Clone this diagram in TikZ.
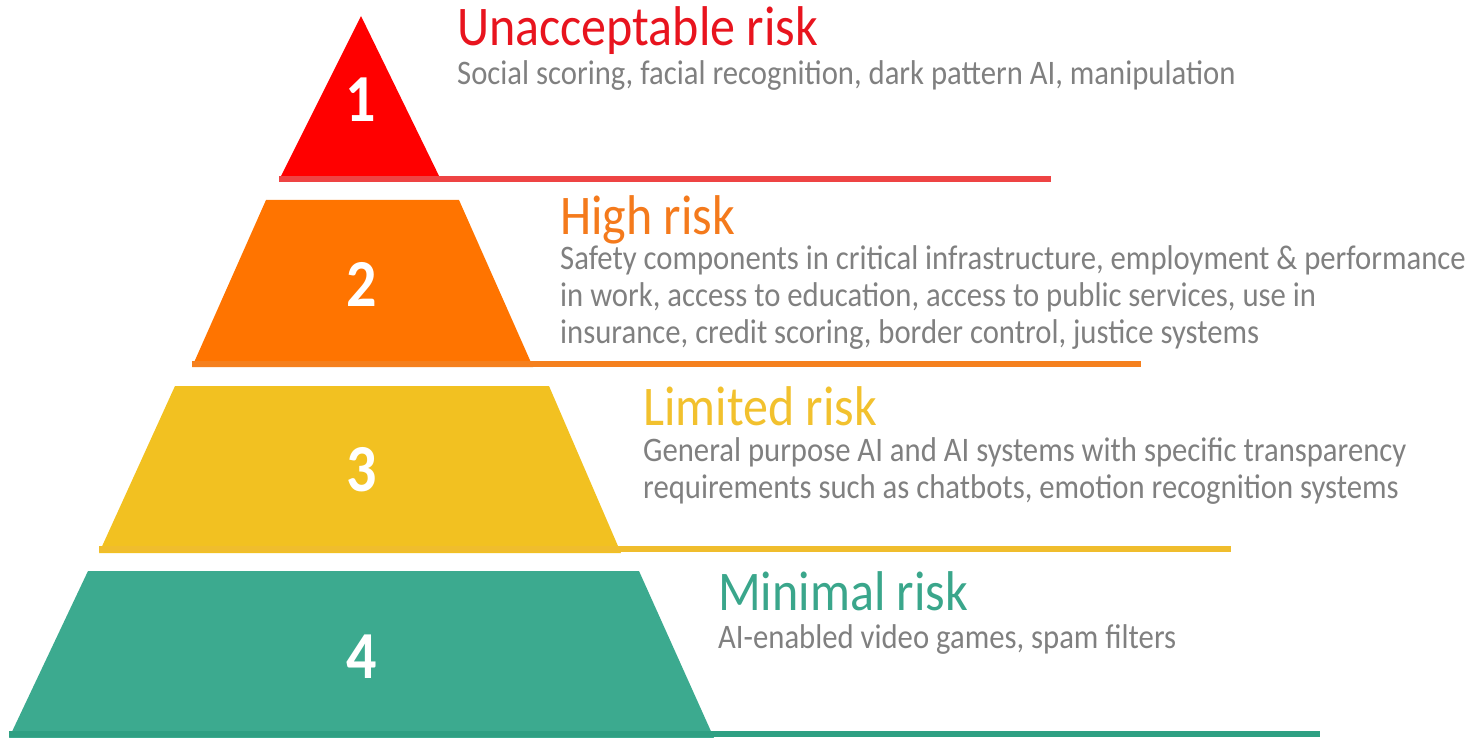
\documentclass[tikz,border=0pt]{standalone}
\usepackage{fontspec}
\setmainfont{Carlito}
\definecolor{cRed}{HTML}{FF0000}
\definecolor{cRedLine}{HTML}{EE4444}
\definecolor{cRedText}{HTML}{E8141E}
\definecolor{cOrange}{HTML}{FF7400}
\definecolor{cOrangeLine}{HTML}{F5801E}
\definecolor{cOrangeText}{HTML}{F47A1C}
\definecolor{cYellow}{HTML}{F2C121}
\definecolor{cYellowLine}{HTML}{F0BD2D}
\definecolor{cYellowText}{HTML}{F2C12E}
\definecolor{cGreen}{HTML}{3CAA8F}
\definecolor{cGreenLine}{HTML}{2FA083}
\definecolor{cGreenText}{HTML}{3AA68B}
\definecolor{cGray}{HTML}{808080}
\begin{document}
\begin{tikzpicture}[x=1pt,y=1pt,
  head/.style={anchor=base west, inner sep=0pt, font=\fontsize{50}{50}\selectfont, yscale=1.12, transform shape},
  body/.style={anchor=base west, inner sep=0pt, font=\fontsize{30.7}{32.6}\selectfont, text=cGray, align=left, yscale=1.12, transform shape},
  num/.style={inner sep=0pt, text=white, font=\bfseries\fontsize{60}{60}\selectfont, yscale=1.12, transform shape},
  baseline bar/.style={line width=6pt}]
\useasboundingbox (0,0) rectangle (1468,-738);
% tier 1
\fill[cRed] (361,-16) -- (441,-180) -- (279,-180) -- cycle;
\draw[baseline bar, cRedLine] (279,-179) -- (1051,-179);
% tier 2
\fill[cOrange] (266,-200) -- (459,-200) -- (533,-367) -- (192,-367) -- cycle;
\draw[baseline bar, cOrangeLine] (192,-364) -- (1141,-364);
% tier 3
\fill[cYellow] (175,-386) -- (549,-386) -- (621,-553) -- (99,-553) -- cycle;
\draw[baseline bar, cYellowLine] (99,-549) -- (1231,-549);
% tier 4
\fill[cGreen] (88,-571) -- (639,-571) -- (714,-738) -- (9,-738) -- cycle;
\draw[baseline bar, cGreenLine] (9,-734) -- (1320,-734);
% numbers
\node[num] (n1) at (361,-100) {1};
\node[num] (n2) at (362,-284) {2};
\node[num] (n3) at (362,-470) {3};
\node[num] (n4) at (362,-657) {4};
% texts
\node[head, text=cRedText] (h1) at (457,-46) {Unacceptable risk};
\node[body] (b1) at (457,-85) {Social scoring, facial recognition, dark pattern AI, manipulation};
\node[head, text=cOrangeText] (h2) at (560,-235) {High risk};
\node[body] (b2) at (560,-343) {Safety components in critical infrastructure, employment \& performance\\in work, access to education, access to public services, use in\\insurance, credit scoring, border control, justice systems};
\node[head, text=cYellowText] (h3) at (643,-425) {Limited risk};
\node[body] (b3) at (643,-498) {General purpose AI and AI systems with specific transparency\\requirements such as chatbots, emotion recognition systems};
\node[head, text=cGreenText] (h4) at (718,-610) {Minimal risk};
\node[body] (b4) at (718,-648) {AI-enabled video games, spam filters};
\end{tikzpicture}
\end{document}
